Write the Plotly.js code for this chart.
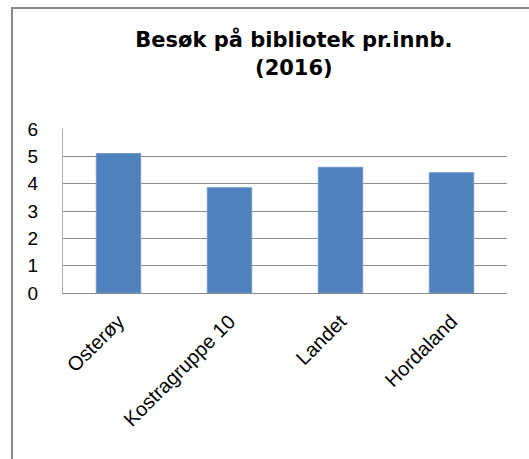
<!DOCTYPE html>
<html>
<head>
<meta charset="utf-8">
<script src="https://cdn.plot.ly/plotly-3.0.1.min.js"></script>
<style>
html, body { margin: 0; padding: 0; background: #fff; }
#chart { position: absolute; left: 0; top: 0; width: 529px; height: 459px; }
#frame { position: absolute; left: 11px; top: 7px; right: 0; bottom: 0;
  border-left: 2px solid #8a8a8a; border-top: 2px solid #8a8a8a; pointer-events: none; }
</style>
</head>
<body>
<div id="chart"></div>
<div id="frame"></div>
<script>
var categories = ["Osterøy", "Kostragruppe 10", "Landet", "Hordaland"];
var visits = [5.1, 3.85, 4.6, 4.4];
var yTicks = [0, 1, 2, 3, 4, 5, 6];
var titleText = "Besøk på bibliotek pr.innb.<br>(2016)";

var fontFam = "Liberation Sans, Arial, sans-serif";

var trace = {
  type: "bar",
  x: categories,
  y: visits,
  width: 0.4,
  marker: { color: "#4f81bd", line: { color: "#6f96c8", width: 1 } },
  hoverinfo: "none"
};

var layout = {
  width: 529,
  height: 459,
  margin: { l: 63, r: 22, t: 129, b: 166, pad: 0 },
  paper_bgcolor: "#ffffff",
  plot_bgcolor: "#ffffff",
  showlegend: false,
  bargap: 0.6,
  title: {
    text: titleText,
    font: { family: "DejaVu Sans, sans-serif", size: 21, color: "#000000", weight: "bold" },
    xref: "paper",
    x: 0.52,
    xanchor: "center",
    yref: "container",
    y: 0.897,
    yanchor: "top"
  },
  xaxis: {
    type: "category",
    tickangle: -45,
    tickfont: { family: fontFam, size: 20, color: "#000000" },
    showgrid: false,
    showline: true,
    linecolor: "#8c8c8c",
    linewidth: 1,
    ticks: "",
    ticklabelstandoff: 8,
    zeroline: false,
    automargin: false
  },
  yaxis: {
    range: [0, 6],
    tickvals: yTicks,
    ticktext: yTicks.map(String),
    tickfont: { family: fontFam, size: 19, color: "#000000" },
    showgrid: true,
    gridcolor: "#8c8c8c",
    gridwidth: 1,
    showline: true,
    linecolor: "#b0b0b0",
    linewidth: 1,
    ticks: "",
    ticklabelstandoff: 20,
    zeroline: false,
    automargin: false
  }
};

Plotly.newPlot("chart", [trace], layout, { displayModeBar: false, staticPlot: true });
</script>
</body>
</html>
